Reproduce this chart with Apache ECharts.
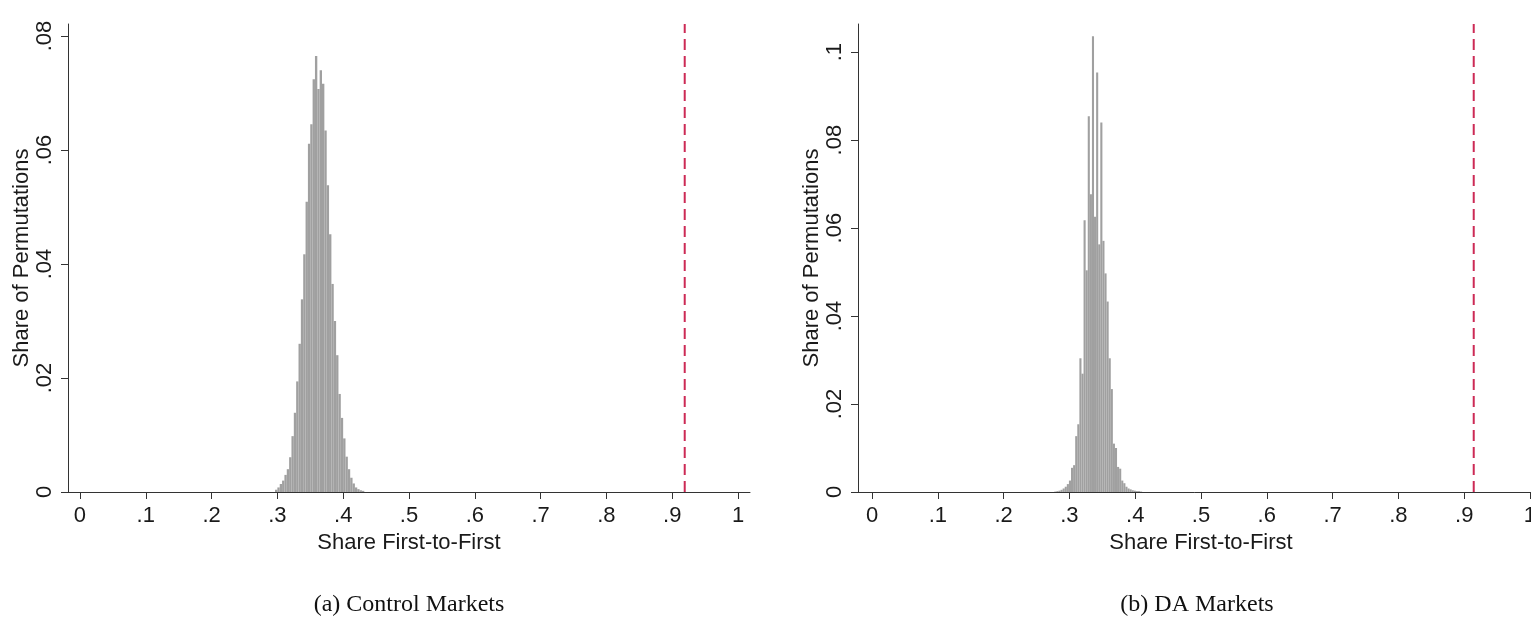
<!DOCTYPE html>
<html>
<head>
<meta charset="utf-8">
<script src="https://cdn.jsdelivr.net/npm/echarts@6/dist/echarts.min.js"></script>
<style>
html,body{margin:0;padding:0;background:#fff;}
#chart{width:1531px;height:626px;}
</style>
</head>
<body>
<div id="chart"></div>
<script>
// ---- Data ----
const xTicks = [0, 0.1, 0.2, 0.3, 0.4, 0.5, 0.6, 0.7, 0.8, 0.9, 1];
const controlYTicks = [0, 0.02, 0.04, 0.06, 0.08];
const daYTicks = [0, 0.02, 0.04, 0.06, 0.08, 0.1];

// Panel (a) Control Markets: histogram bins (start, width) and share per bin
const controlBinStart = 0.2964;
const controlBinWidth = 0.00357;
const controlShares = [
  0.0004, 0.0008, 0.0014, 0.0020, 0.0030, 0.0040, 0.0061, 0.0098, 0.0139, 0.0194,
  0.0260, 0.0338, 0.0417, 0.0509, 0.0611, 0.0645, 0.0724, 0.0765, 0.0707, 0.0740,
  0.0716, 0.0634, 0.0538, 0.0452, 0.0365, 0.0300, 0.0240, 0.0172, 0.0130, 0.0094,
  0.0062, 0.0040, 0.0025, 0.0015, 0.0008, 0.0005, 0.0003, 0.0002
];
const controlObserved = 0.919;

// Panel (b) DA Markets
const daBinStart = 0.2770;
const daBinWidth = 0.00318;
const daShares = [
  0.0001, 0.0002, 0.0003, 0.0005, 0.0008, 0.0012, 0.0018, 0.0026, 0.0055, 0.0061,
  0.0127, 0.0154, 0.0304, 0.0269, 0.0618, 0.0504, 0.0854, 0.0677, 0.1036, 0.0626,
  0.0954, 0.0563, 0.0840, 0.0571, 0.0497, 0.0433, 0.0304, 0.0234, 0.0110, 0.0100,
  0.0057, 0.0053, 0.0026, 0.0020, 0.0012, 0.0008, 0.0006, 0.0004, 0.0003, 0.0002,
  0.0002, 0.0001
];
const daObserved = 0.9145;

const controlYMax = 0.0821;
const daYMax = 0.1064;

// ---- Build ----
function bins(start, width, shares) {
  return shares.map((s, i) => [start + i * width, start + (i + 1) * width, s]);
}
const FONT = "'Liberation Sans', Arial, sans-serif";
const TXT = '#1a1a1a';
function fmt(v) {
  if (v === 0) return '0';
  if (v === 1) return '1';
  return String(+v.toFixed(4)).replace(/^0/, '');
}
function renderBar(params, api) {
  const p0 = api.coord([api.value(0), api.value(2)]);
  const p1 = api.coord([api.value(1), 0]);
  return {
    type: 'rect',
    shape: { x: p0[0], y: p0[1], width: p1[0] - p0[0], height: p1[1] - p0[1] },
    style: { fill: '#a0a0a0' }
  };
}
function xAxisCfg(gridIndex, min, max) {
  return {
    type: 'value', gridIndex, min, max,
    name: 'Share First-to-First', nameLocation: 'middle', nameGap: 36,
    nameTextStyle: { fontFamily: FONT, fontSize: 22, color: TXT },
    axisLine: { show: true, onZero: false, lineStyle: { color: '#333', width: 1 } },
    axisTick: { show: true, length: 7, customValues: xTicks, lineStyle: { color: '#333' } },
    axisLabel: { customValues: xTicks, formatter: fmt, margin: 13, fontFamily: FONT, fontSize: 22, color: TXT, hideOverlap: false },
    splitLine: { show: false }
  };
}
function yAxisCfg(gridIndex, max, ticks, nameGap) {
  return {
    type: 'value', gridIndex, min: 0, max,
    name: 'Share of Permutations', nameLocation: 'middle', nameGap,
    nameTextStyle: { fontFamily: FONT, fontSize: 22, color: TXT },
    axisLine: { show: true, onZero: false, lineStyle: { color: '#333', width: 1 } },
    axisTick: { show: true, length: 7, customValues: ticks, lineStyle: { color: '#333' } },
    axisLabel: { customValues: ticks, formatter: fmt, rotate: 90, margin: 12, fontFamily: FONT, fontSize: 22, color: TXT },
    splitLine: { show: false }
  };
}
const chart = echarts.init(document.getElementById('chart'), null, { renderer: 'canvas' });
chart.setOption({
  animation: false,
  backgroundColor: '#fff',
  grid: [
    { left: 68, top: 24, width: 682, height: 468, outerBoundsMode: 'none', containLabel: false },
    { left: 858, top: 24, width: 686, height: 468, outerBoundsMode: 'none', containLabel: false }
  ],
  xAxis: [xAxisCfg(0, -0.0182, 1.0182), xAxisCfg(1, -0.0213, 1.0213)],
  yAxis: [yAxisCfg(0, controlYMax, controlYTicks, 35), yAxisCfg(1, daYMax, daYTicks, 31)],
  series: [
    { type: 'custom', xAxisIndex: 0, yAxisIndex: 0, renderItem: renderBar,
      encode: { x: [0, 1], y: 2 }, data: bins(controlBinStart, controlBinWidth, controlShares) },
    { type: 'custom', xAxisIndex: 1, yAxisIndex: 1, renderItem: renderBar,
      encode: { x: [0, 1], y: 2 }, data: bins(daBinStart, daBinWidth, daShares) },
    { type: 'line', xAxisIndex: 0, yAxisIndex: 0, showSymbol: false, silent: true,
      data: [[controlObserved, 0], [controlObserved, controlYMax]],
      lineStyle: { color: '#cc2a55', width: 2, type: [11, 6] } },
    { type: 'line', xAxisIndex: 1, yAxisIndex: 1, showSymbol: false, silent: true,
      data: [[daObserved, 0], [daObserved, daYMax]],
      lineStyle: { color: '#cc2a55', width: 2, type: [11, 6] } }
  ],
  graphic: [
    { type: 'text', x: 409, y: 605, style: { text: '(a) Control Markets', x: 0, y: 0,
      align: 'center', verticalAlign: 'middle', font: "24px 'Liberation Serif', serif", fill: '#111' } },
    { type: 'text', x: 1197, y: 605, style: { text: '(b) DA Markets', x: 0, y: 0,
      align: 'center', verticalAlign: 'middle', font: "24px 'Liberation Serif', serif", fill: '#111' } }
  ]
});
</script>
</body>
</html>
